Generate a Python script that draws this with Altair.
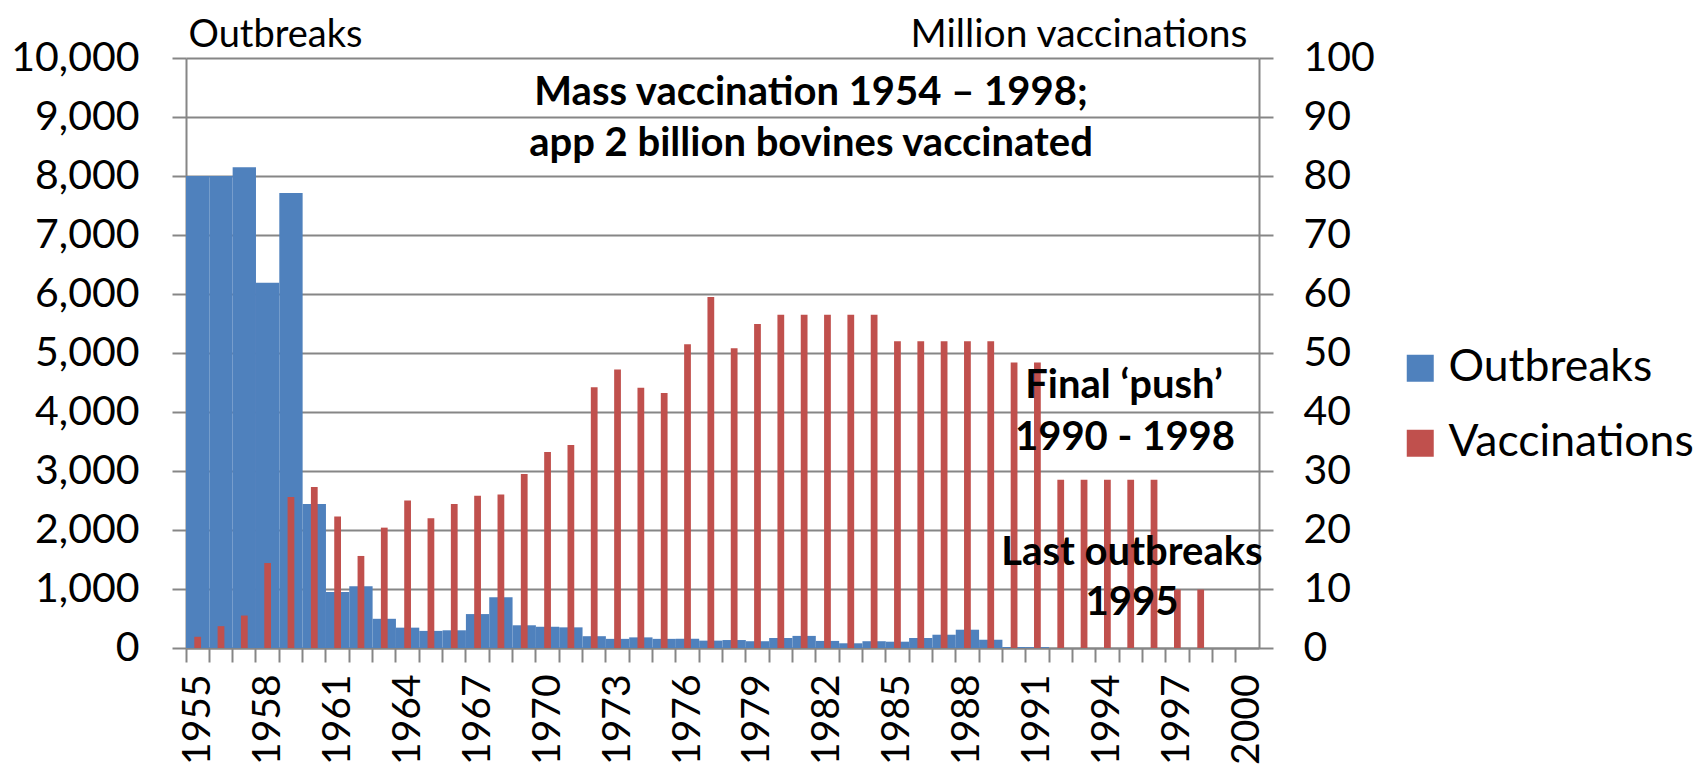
import altair as alt
import pandas as pd

# ---- data ----
years = list(range(1955, 2001))
outbreaks = [8000, 8000, 8150, 6190, 7710, 2440, 950, 1045, 495, 345,
             290, 300, 575, 860, 385, 360, 350, 200, 155, 180,
             155, 155, 125, 135, 115, 170, 205, 120, 80, 115,
             107, 170, 225, 310, 140, 17, 15, 0, 0, 0,
             0, 0, 0, 0, 0, 0]
vaccinations = [1.9, 3.7, 5.5, 14.4, 25.6, 27.3, 22.3, 15.6, 20.4, 25.0,
                22.0, 24.4, 25.8, 26.0, 29.5, 33.2, 34.4, 44.2, 47.2, 44.1,
                43.2, 51.5, 59.5, 50.8, 54.9, 56.5, 56.5, 56.5, 56.5, 56.5,
                52.0, 52.0, 52.0, 52.0, 52.0, 48.4, 48.4, 28.5, 28.5, 28.5,
                28.5, 28.5, 9.9, 9.9, 0, 0]
series_names = ["Outbreaks", "Vaccinations"]
series_colors = ["#4F81BD", "#C0504D"]
left_ticks = list(range(0, 10001, 1000))
right_ticks = list(range(0, 101, 10))
year_labels = list(range(1955, 2001, 3))
left_title = "Outbreaks"
right_title = "Million vaccinations"
mass_lines = ["Mass vaccination 1954 – 1998;", "app 2 billion bovines vaccinated"]
push_lines = ["Final ‘push’", "1990 - 1998"]
last_lines = ["Last outbreaks", "1995"]

df_o = pd.DataFrame({"year": years, "value": outbreaks, "series": series_names[0]})
df_v = pd.DataFrame({"year": years, "value": vaccinations, "series": series_names[1]})

FONT = "Lato"
GRID = "#868686"
W, H = 1073, 590

color = alt.Color(
    "series:N",
    scale=alt.Scale(domain=series_names, range=series_colors),
    legend=alt.Legend(
        title=None, orient="none", legendX=1212, legendY=288,
        symbolType="square", symbolSize=729, symbolStrokeWidth=0,
        labelFont=FONT, labelFontSize=44.5, labelColor="black", labelLimit=400,
        labelOffset=6, rowPadding=30, padding=0,
    ),
)

xscale = alt.Scale(paddingInner=0, paddingOuter=0)

blue = alt.Chart(df_o).mark_bar().encode(
    x=alt.X("year:O", scale=xscale,
            axis=alt.Axis(orient="bottom", labels=False, ticks=True, tickSize=14,
                          tickWidth=2, tickColor=GRID, bandPosition=0,
                          domain=True, domainColor=GRID, domainWidth=2,
                          grid=False, title=None)),
    y=alt.Y("value:Q", scale=alt.Scale(domain=[0, 10000], nice=False),
            axis=alt.Axis(orient="left", values=left_ticks, format=",d",
                          grid=True, gridColor=GRID, gridWidth=2,
                          domainColor=GRID, domainWidth=2,
                          tickColor=GRID, tickWidth=2, tickSize=14,
                          labelFont=FONT, labelFontSize=41, labelColor="black",
                          labelPadding=33,
                          title=left_title, titleAngle=0, titleAlign="left",
                          titleBaseline="alphabetic", titleX=2, titleY=-12,
                          titleFont=FONT, titleFontSize=38, titleFontWeight="normal",
                          titleColor="black")),
    color=color,
)

red = alt.Chart(df_v).mark_bar(width=alt.RelativeBandSize(0.29)).encode(
    x=alt.X("year:O", scale=xscale,
            axis=alt.Axis(orient="bottom", values=year_labels, ticks=False,
                          domain=False, grid=False, labelAngle=-90,
                          labelPadding=26, labelFont=FONT, labelFontSize=39,
                          labelColor="black", title=None)),
    y=alt.Y("value:Q", scale=alt.Scale(domain=[0, 100], nice=False),
            axis=alt.Axis(orient="right", values=right_ticks, grid=False,
                          domainColor=GRID, domainWidth=2,
                          tickColor=GRID, tickWidth=2, tickSize=14,
                          labelFont=FONT, labelFontSize=41, labelColor="black",
                          labelPadding=30,
                          title=right_title, titleAngle=0, titleAlign="right",
                          titleBaseline="alphabetic", titleX=-12, titleY=-12,
                          titleFont=FONT, titleFontSize=39, titleFontWeight="normal",
                          titleColor="black")),
    color=color,
)


def note(text, x, y, size=40):
    return alt.Chart(pd.DataFrame({"t": [text]})).mark_text(
        x=x, y=y, align="center", baseline="alphabetic",
        font=FONT, fontSize=size, fontWeight="bold", color="black",
    ).encode(text="t:N")


notes = [
    note(mass_lines[0], 625, 47),
    note(mass_lines[1], 625, 98),
    note(push_lines[0], 938, 340),
    note(push_lines[1], 939, 392),
    note(last_lines[0], 946, 507),
    note(last_lines[1], 946, 557),
]

chart = alt.layer(blue, red, *notes).resolve_scale(
    y="independent"
).resolve_axis(
    x="independent", y="independent"
).properties(
    width=W, height=H,
    autosize=alt.AutoSizeParams(type="none"),
    padding={"left": 178, "top": 50, "right": 438, "bottom": 121},
    background="white",
).configure_view(stroke="transparent")

chart.save("out.html", embed_options={"renderer": "svg", "actions": False})
